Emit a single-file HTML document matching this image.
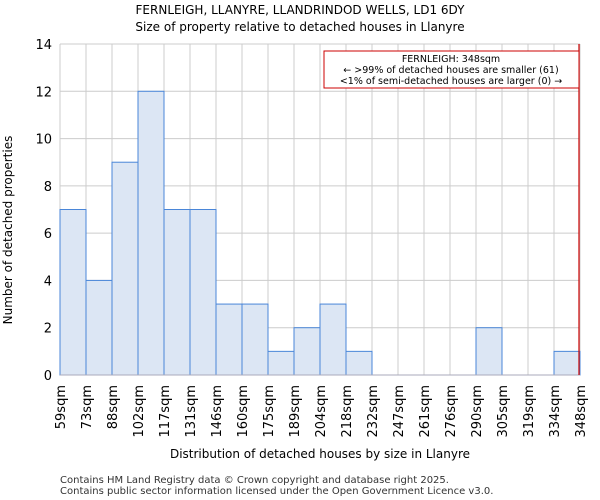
<!DOCTYPE html>
<html><head><meta charset="utf-8"><style>body{margin:0;background:#fff}svg{display:block;font-family:"DejaVu Sans","Liberation Sans",sans-serif}</style></head>
<body>
<svg id="chart" width="600" height="500">
<text x="300" y="14" text-anchor="middle" font-size="12">FERNLEIGH, LLANYRE, LLANDRINDOD WELLS, LD1 6DY</text>
<text x="300" y="31" text-anchor="middle" font-size="12">Size of property relative to detached houses in Llanyre</text>
<g id="grid"></g><g id="bars"></g><g id="axes"></g>
<text x="12" y="230" text-anchor="middle" font-size="12" transform="rotate(-90 12 230)">Number of detached properties</text>
<text x="320" y="458" text-anchor="middle" font-size="12">Distribution of detached houses by size in Llanyre</text>
<text x="60" y="483" font-size="10" fill="#333">Contains HM Land Registry data © Crown copyright and database right 2025.</text>
<text x="60" y="494" font-size="10" fill="#333">Contains public sector information licensed under the Open Government Licence v3.0.</text>
<line x1="579" y1="44" x2="579" y2="375" stroke="#c00" stroke-width="1.2"/>
<rect x="324" y="51" width="255" height="37" fill="#fff" stroke="#c00"/>
<text x="451" y="62" text-anchor="middle" font-size="9.5">FERNLEIGH: 348sqm</text>
<text x="451" y="73" text-anchor="middle" font-size="9.5">← &gt;99% of detached houses are smaller (61)</text>
<text x="451" y="84" text-anchor="middle" font-size="9.5">&lt;1% of semi-detached houses are larger (0) →</text>
</svg>
<script>
const categories=["59sqm","73sqm","88sqm","102sqm","117sqm","131sqm","146sqm","160sqm","175sqm","189sqm","204sqm","218sqm","232sqm","247sqm","261sqm","276sqm","290sqm","305sqm","319sqm","334sqm","348sqm"];
const counts=[7,4,9,12,7,7,3,3,1,2,3,1,0,0,0,0,2,0,0,1];
const yTicks=[0,2,4,6,8,10,12,14];
const L=60,R=580,T=44,B=375,YMAX=14;
const ns="http://www.w3.org/2000/svg";
const n=counts.length,bw=(R-L)/n;
const xs=i=>L+i*bw, ys=v=>B-(v/YMAX)*(B-T);
function mk(t,a,p){const e=document.createElementNS(ns,t);for(const k in a)e.setAttribute(k,a[k]);p.appendChild(e);return e;}
const g=document.getElementById('grid'),bg=document.getElementById('bars'),ag=document.getElementById('axes');
for(let i=0;i<=n;i++){const l=mk('line',{x1:xs(i),x2:xs(i),y1:T,y2:B,stroke:'#ccc'},g);

}
yTicks.forEach(v=>{const l=mk('line',{x1:L,x2:R,y1:ys(v),y2:ys(v),stroke:'#ccc'},g);


const t=mk('text',{x:L-8,y:ys(v)+5,'text-anchor':'end','font-size':13},ag);t.textContent=v;

});
counts.forEach((c,i)=>{if(c<=0)return;const r=mk('rect',{x:xs(i),y:ys(c),width:bw,height:ys(0)-ys(c),fill:'#dce6f4',stroke:'#4a86d8','stroke-width':1},bg);

});
const base=mk('line',{x1:L,x2:R,y1:B,y2:B,stroke:'#aab',"stroke-width":1},ag);


categories.forEach((c,i)=>{const x=xs(i)+5,y=385;const t=mk('text',{x:x,y:y,'text-anchor':'end','font-size':13,transform:`rotate(-90 ${x} ${y})`},ag);t.textContent=c;

});
</script>
</body></html>
